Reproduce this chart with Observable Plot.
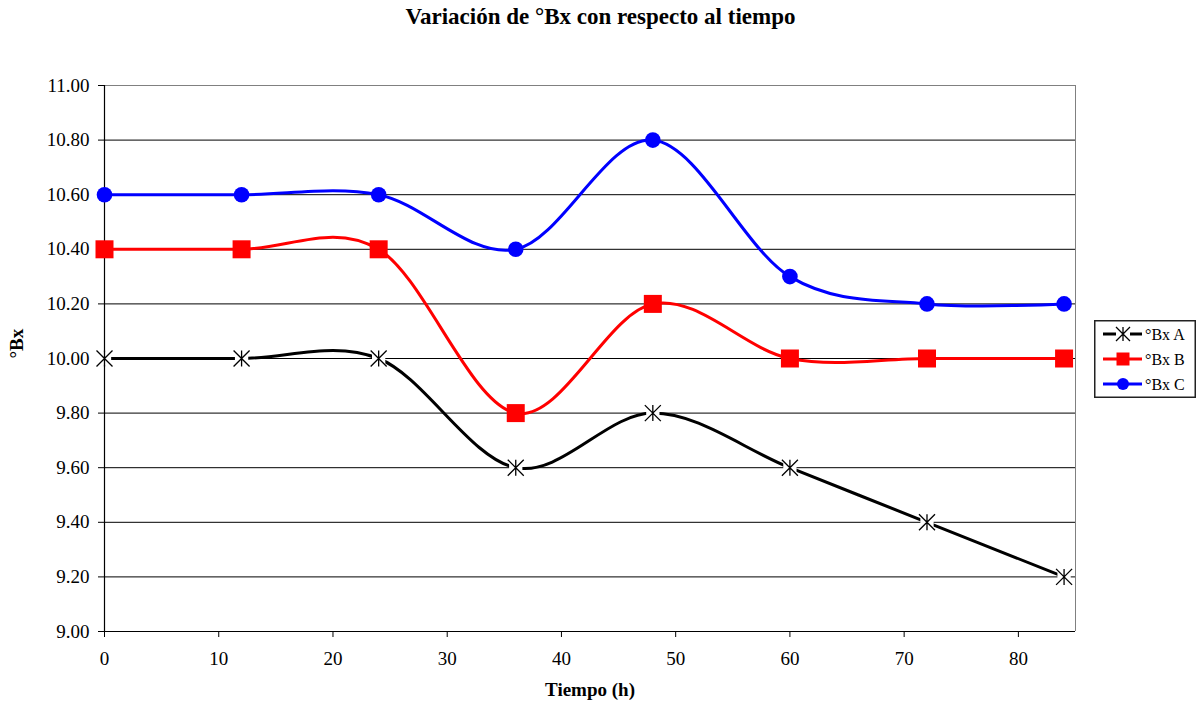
<!DOCTYPE html>
<html>
<head>
<meta charset="utf-8">
<script src="https://cdn.jsdelivr.net/npm/d3@7"></script>
<script src="https://cdn.jsdelivr.net/npm/@observablehq/plot@0.6"></script>
<style>
  html, body { margin: 0; padding: 0; background: #fff; }
  #chart { position: relative; width: 1201px; height: 711px; font-family: 'Liberation Serif', Tinos, serif; }
  #title { position: absolute; left: 0; top: 3px; width: 1201px; text-align: center; font-weight: bold; font-size: 23px; line-height: 28px; color: #000; font-family: 'Liberation Serif', Tinos, serif; }
  #plot { position: absolute; left: 0; top: 40px; }
  #legend { position: absolute; left: 1094px; top: 320px; }
</style>
</head>
<body>
<div id="chart">
  <div id="title">Variación de °Bx con respecto al tiempo</div>
  <div id="plot"></div>
  <div id="legend"></div>
</div>
<script>
// Sampling times (h)
const tiempo = [0, 12, 24, 36, 48, 60, 72, 84];
// °Bx readings per sample
const bxA = [10.0, 10.0, 10.0, 9.6, 9.8, 9.6, 9.4, 9.2];
const bxB = [10.4, 10.4, 10.4, 9.8, 10.2, 10.0, 10.0, 10.0];
const bxC = [10.6, 10.6, 10.6, 10.4, 10.8, 10.3, 10.2, 10.2];
const seriesNames = ["°Bx A", "°Bx B", "°Bx C"];
const seriesColors = ["#000000", "#FF0000", "#0000FF"];
// Axis ticks
const xTicks = [0, 10, 20, 30, 40, 50, 60, 70, 80];
const yTicks = [9.0, 9.2, 9.4, 9.6, 9.8, 10.0, 10.2, 10.4, 10.6, 10.8, 11.0];

// Long-format table for Plot
const rows = [];
[bxA, bxB, bxC].forEach((vals, i) => {
  vals.forEach((v, j) => rows.push({serie: seriesNames[i], t: tiempo[j], v}));
});
const rowsOf = name => rows.filter(d => d.serie === name);

// Star marker: an X crossed by a vertical stroke
const starSymbol = {
  draw(context, size) {
    const r = Math.sqrt(size / Math.PI);
    context.moveTo(-r, -r); context.lineTo(r, r);
    context.moveTo(r, -r); context.lineTo(-r, r);
    context.moveTo(0, -r); context.lineTo(0, r);
  }
};

const fontFamily = "'Liberation Serif', Tinos, serif";

const chart = Plot.plot({
  width: 1201,
  height: 671,
  marginLeft: 104,
  marginRight: 126,
  marginTop: 45,
  marginBottom: 80,
  style: {fontFamily, fontSize: "19px", color: "#000", background: "transparent", overflow: "visible"},
  x: {domain: [0, 85]},
  y: {domain: [9, 11]},
  color: {domain: seriesNames, range: seriesColors},
  marks: [
    // gridlines and plot-area border
    Plot.ruleY(yTicks.filter(v => v > 9 && v < 11), {stroke: "#000", strokeWidth: 1}),
    Plot.ruleY([11], {stroke: "#808080", strokeWidth: 1}),
    Plot.ruleX([85], {stroke: "#808080", strokeWidth: 1}),
    Plot.ruleY([9], {stroke: "#000", strokeWidth: 1.2}),
    Plot.ruleX([0], {stroke: "#000", strokeWidth: 1.2}),
    // axes
    Plot.axisX({ticks: xTicks, tickSize: 6, tickPadding: 14, tickFormat: d => String(d), label: null, fontSize: 19, fontFamily}),
    Plot.axisY({ticks: yTicks, tickSize: 6, tickPadding: 9, tickFormat: d => d.toFixed(2), label: null, fontSize: 19, fontFamily}),
    Plot.text(["Tiempo (h)"], {frameAnchor: "bottom", dy: 64, fontWeight: "bold", fontSize: 19, fontFamily, fill: "#000"}),
    Plot.text(["°Bx"], {frameAnchor: "left", dx: -88, rotate: -90, fontWeight: "bold", fontSize: 19, fontFamily, fill: "#000"}),
    // smoothed series lines
    Plot.line(rows, {x: "t", y: "v", z: "serie", stroke: "serie", curve: "cardinal", strokeWidth: 3}),
    // markers
    Plot.dot(rowsOf("°Bx A"), {x: "t", y: "v", symbol: "square", r: 7.5, fill: "#fff", stroke: "none"}),
    Plot.dot(rowsOf("°Bx A"), {x: "t", y: "v", symbol: starSymbol, r: 8, fill: "none", stroke: "#000", strokeWidth: 1.3}),
    Plot.dot(rowsOf("°Bx B"), {x: "t", y: "v", symbol: "square", r: 18 / Math.sqrt(Math.PI), fill: "#FF0000", stroke: "none"}),
    Plot.dot(rowsOf("°Bx C"), {x: "t", y: "v", symbol: "circle", r: 7.8, fill: "#0000FF", stroke: "none"})
  ]
});
document.getElementById("plot").appendChild(chart);

// Legend box
const lw = 102, lh = 78;
const legend = d3.select("#legend").append("svg")
  .attr("width", lw).attr("height", lh)
  .style("font-family", fontFamily).style("overflow", "visible");
legend.append("rect")
  .attr("x", 0.75).attr("y", 0.75).attr("width", lw - 1.5).attr("height", lh - 1.5)
  .attr("fill", "#fff").attr("stroke", "#222").attr("stroke-width", 1.5);
const itemY = [14, 39, 64];
seriesNames.forEach((name, i) => {
  const g = legend.append("g").attr("transform", `translate(0,${itemY[i]})`);
  g.append("line").attr("x1", 9).attr("x2", 48).attr("y1", 0).attr("y2", 0)
    .attr("stroke", seriesColors[i]).attr("stroke-width", 3);
  if (i === 0) {
    g.append("rect").attr("x", 22).attr("y", -7).attr("width", 14).attr("height", 14).attr("fill", "#fff");
    g.append("path").attr("transform", "translate(29,0)")
      .attr("d", d3.symbol(starSymbol, Math.PI * 49)())
      .attr("fill", "none").attr("stroke", "#000").attr("stroke-width", 1.3);
  } else if (i === 1) {
    g.append("path").attr("transform", "translate(29,0)")
      .attr("d", d3.symbol(d3.symbolSquare, 13 * 13)()).attr("fill", seriesColors[i]);
  } else {
    g.append("path").attr("transform", "translate(29,0)")
      .attr("d", d3.symbol(d3.symbolCircle, Math.PI * 36)()).attr("fill", seriesColors[i]);
  }
  g.append("text").attr("x", 51).attr("y", 0).attr("dy", "0.35em")
    .attr("font-size", 16).attr("fill", "#000").text(name);
});
</script>
</body>
</html>
